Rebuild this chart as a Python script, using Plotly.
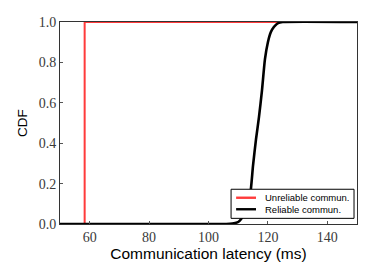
import plotly.graph_objects as go

# Unreliable communication: step CDF
unrel_x = [50, 58.3, 58.3, 150]
unrel_cdf = [0, 0, 1, 1]

# Reliable communication CDF
rel_x = [50, 106, 108, 109, 110, 111, 112, 113, 114, 115, 116, 117, 118, 119, 120, 121, 122, 123, 124, 125, 150]
rel_cdf = [0, 0, 0.002, 0.005, 0.01, 0.025, 0.05, 0.09, 0.14, 0.29, 0.42, 0.53, 0.66, 0.815, 0.9, 0.95, 0.975, 0.99, 0.997, 1.0, 1.0]

x_ticks = [60, 80, 100, 120, 140]
y_ticks = [0.0, 0.2, 0.4, 0.6, 0.8, 1.0]

series_names = ["Unreliable commun.", "Reliable commun."]
series_colors = ["#ff3b3b", "black"]

fig = go.Figure()
fig.add_trace(go.Scatter(x=unrel_x, y=unrel_cdf, mode="lines",
                         line=dict(color=series_colors[0], width=2),
                         name=series_names[0], showlegend=False))
fig.add_trace(go.Scatter(x=rel_x, y=rel_cdf, mode="lines",
                         line=dict(color=series_colors[1], width=2.6, shape="spline", smoothing=0.6),
                         name=series_names[1], showlegend=False))

# Compact legend box (drawn in paper coordinates)
shapes = [dict(type="rect", xref="paper", yref="paper", x0=0.576, x1=0.99, y0=0.028, y1=0.172,
               fillcolor="white", line=dict(color="black", width=1), layer="above")]
annotations = []
for i, (nm, col) in enumerate(zip(series_names, series_colors)):
    yy = 0.130 - i * 0.057
    shapes.append(dict(type="line", xref="paper", yref="paper", x0=0.593, x1=0.660, y0=yy, y1=yy,
                       line=dict(color=col, width=2.4), layer="above"))
    annotations.append(dict(xref="paper", yref="paper", x=0.682, y=yy, text=nm, showarrow=False,
                            xanchor="left", yanchor="middle",
                            font=dict(family="Liberation Sans", size=9.5, color="black")))

serif = dict(family="Liberation Serif", size=14, color="#3a3a3a")
fig.update_layout(
    width=358, height=264,
    margin=dict(l=52, r=9, t=14, b=48),
    plot_bgcolor="white", paper_bgcolor="white",
    showlegend=False,
    shapes=shapes, annotations=annotations,
    xaxis=dict(range=[50, 150], tickvals=x_ticks, ticks="inside", ticklen=3,
               tickcolor="#555", showline=True, mirror=True, linecolor="#333",
               linewidth=1, showgrid=False, zeroline=False, tickfont=serif,
               automargin=False,
               title=dict(text="Communication latency (ms)",
                          font=dict(family="Liberation Sans", size=15.5, color="black"),
                          standoff=0)),
    yaxis=dict(range=[0, 1], tickvals=y_ticks, tickformat=".1f", ticks="inside",
               ticklen=3, tickcolor="#555", showline=True, mirror=True,
               linecolor="#333", linewidth=1, showgrid=False, zeroline=False,
               tickfont=serif, automargin=False,
               title=dict(text="CDF", font=dict(family="Liberation Sans", size=13.5, color="black"),
                          standoff=7)),
)
fig.write_html("out.html")
